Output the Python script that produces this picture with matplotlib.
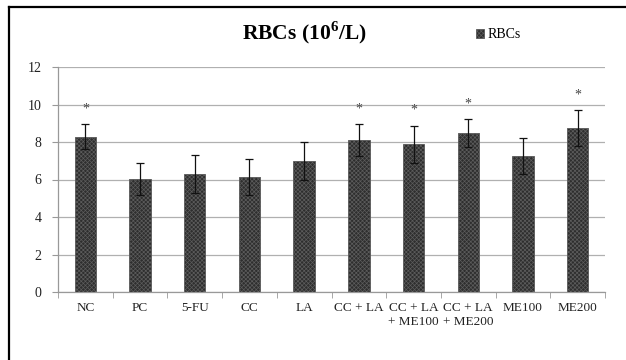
import matplotlib
matplotlib.use('Agg')
import matplotlib.pyplot as plt
from matplotlib.lines import Line2D
import numpy as np

groups = ['NC', 'PC', '5-FU', 'CC', 'LA', 'CC + LA', 'CC + LA\n+ ME100',
          'CC + LA\n+ ME200', 'ME100', 'ME200']
rbc = [8.28, 6.01, 6.29, 6.12, 7.00, 8.11, 7.88, 8.46, 7.25, 8.76]
rbc_err = [0.66, 0.85, 1.00, 0.97, 1.02, 0.85, 1.00, 0.75, 0.98, 0.95]
marked = [True, False, False, False, False, True, True, True, False, True]
yticks = [0, 2, 4, 6, 8, 10, 12]

plt.rcParams['font.family'] = ['Liberation Serif', 'DejaVu Serif']
plt.rcParams['mathtext.fontset'] = 'custom'
plt.rcParams['mathtext.rm'] = 'Liberation Serif'
plt.rcParams['mathtext.bf'] = 'Liberation Serif:bold'
plt.rcParams['hatch.linewidth'] = 0.5

fig = plt.figure(figsize=(6.26, 3.6), dpi=100)
ax = fig.add_axes([58 / 626, 68 / 360, 547 / 626, 225 / 360])

x = np.arange(len(groups))
ax.bar(x, rbc, width=0.39, color='#2e2e2e', edgecolor='#5c5c5c',
       linewidth=0.6, hatch='xxxxxxxx', zorder=2, label='RBCs')
ax.errorbar(x, rbc, yerr=rbc_err, fmt='none', ecolor='#111111',
            elinewidth=0.9, capsize=3, capthick=0.9, zorder=3)

for xi, v, e, m in zip(x, rbc, rbc_err, marked):
    if m:
        ax.text(xi, v + e + 0.8, '*', ha='center', va='center',
                fontsize=10, color='#444444')

ax.set_xlim(-0.5, len(groups) - 0.5)
ax.set_ylim(0, 12)
ax.set_yticks(yticks)
ax.set_yticklabels([str(t) for t in yticks], fontsize=10, color='#222222')
ax.set_xticks(x)
ax.set_xticklabels(groups, fontsize=9.5, linespacing=1.3, color='#222222')
ax.set_xticks(np.arange(len(groups) + 1) - 0.5, minor=True)
ax.tick_params(axis='x', which='major', length=0, pad=7)
ax.tick_params(axis='x', which='minor', length=4, color='#999999',
               direction='out')
ax.tick_params(axis='y', length=4, color='#999999', pad=8)

ax.grid(axis='y', color='#b0b0b0', linewidth=0.9, zorder=0)
ax.set_axisbelow(True)
for side in ['top', 'right']:
    ax.spines[side].set_visible(False)
for side in ['left', 'bottom']:
    ax.spines[side].set_color('#999999')
    ax.spines[side].set_linewidth(0.9)

fig.text(304 / 626, 1 - 33 / 360, r'RBCs (10$^{\mathbf{6}}$/L)', ha='center',
         va='center', fontsize=15.5, fontweight='bold')
fig.legend(loc='center left', bbox_to_anchor=(463 / 626, 1 - 35 / 360),
           frameon=False, fontsize=10, handlelength=0.6, handleheight=0.6,
           handletextpad=0.3)

# black frame on top and left edges
fig.add_artist(Line2D([9 / 626, 1], [1 - 7 / 360, 1 - 7 / 360],
                      color='black', linewidth=1.6))
fig.add_artist(Line2D([9 / 626, 9 / 626], [0, 1 - 7 / 360],
                      color='black', linewidth=1.6))

fig.savefig('out.png', dpi=100)
